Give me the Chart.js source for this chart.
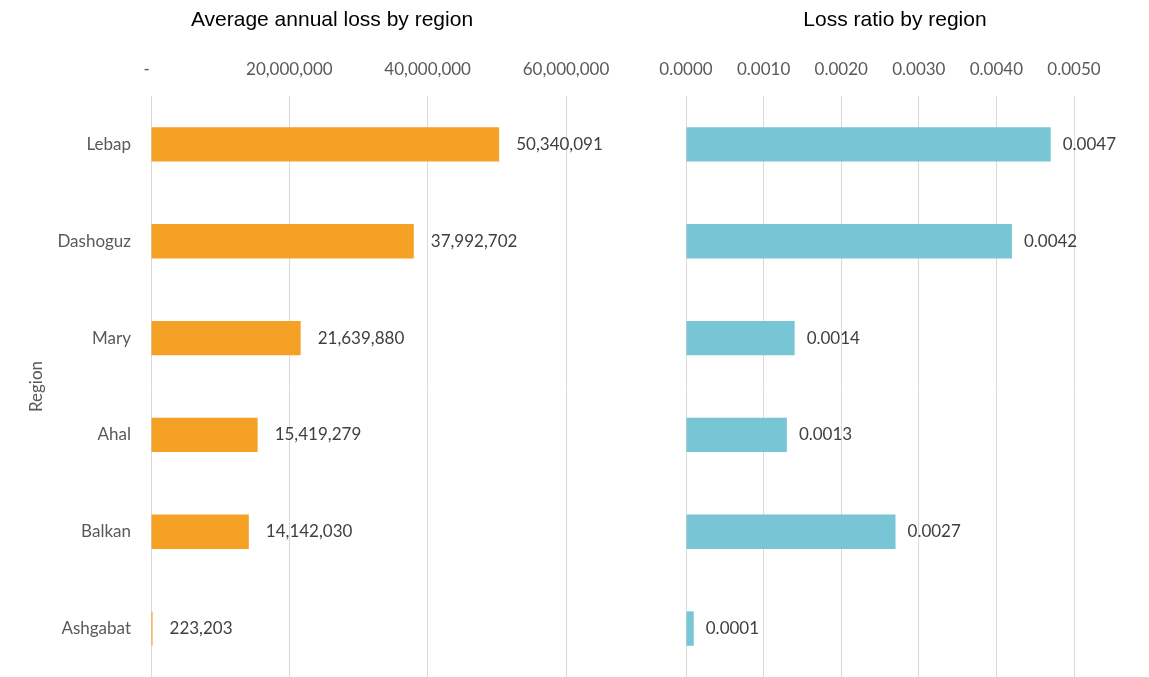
<!DOCTYPE html>
<html>
<head>
<meta charset="utf-8">
<script src="https://cdn.jsdelivr.net/npm/chart.js@4.4.1/dist/chart.umd.min.js"></script>
<style>
    body { margin: 0; background: #fff; }
    #loss_box { position: absolute; left: 0; top: 0; }
    #ratio_box { position: absolute; left: 641px; top: 0; }
</style>
</head>
<body>
<div id="loss_box"><canvas id="annual_loss_chart" width="664" height="677"></canvas></div>
<div id="ratio_box"><canvas id="loss_ratio_chart" width="508" height="677"></canvas></div>

<script>
// regions and their values
var regions = ['Lebap', 'Dashoguz', 'Mary', 'Ahal', 'Balkan', 'Ashgabat'];
var annual_loss = [50340091, 37992702, 21639880, 15419279, 14142030, 223203];
var loss_ratio = [0.0047, 0.0042, 0.0014, 0.0013, 0.0027, 0.0001];

var loss_ticks = [0, 20000000, 40000000, 60000000];
var ratio_ticks = [0, 0.001, 0.002, 0.003, 0.004, 0.005];

var tick_font = { family: 'Lato', size: 17 };
var grid_color = '#d9d9d9';

// heading centred over the whole canvas (the built in title centres on the padded area)
function heading(text) {
    return {
        id: 'heading',
        afterDraw: function (chart) {
            var ctx = chart.ctx;
            ctx.save();
            ctx.font = '21px "Liberation Sans"';
            ctx.fillStyle = '#000';
            ctx.textAlign = 'center';
            ctx.textBaseline = 'middle';
            ctx.fillText(text, chart.width / 2, 20);
            ctx.restore();
        }
    };
}

// writes the value just right of each bar
function value_labels(format, gap) {
    return {
        id: 'value_labels',
        afterDatasetsDraw: function (chart) {
            var ctx = chart.ctx;
            var values = chart.data.datasets[0].data;
            ctx.save();
            ctx.font = '17px Lato';
            ctx.fillStyle = '#404040';
            ctx.textAlign = 'left';
            ctx.textBaseline = 'middle';
            chart.getDatasetMeta(0).data.forEach(function (bar, i) {
                ctx.fillText(format(values[i]), bar.x + gap, bar.y);
            });
            ctx.restore();
        }
    };
}

// accounting style: zero shows as a dash
function format_loss(v) {
    return v === 0 ? '-  ' : v.toLocaleString('en-US');
}

function format_ratio(v) {
    return v.toFixed(4);
}

function x_axis(ticks, format) {
    return {
        position: 'top',
        min: ticks[0],
        max: ticks[ticks.length - 1],
        // same axis height in both charts, and no extra room for the end labels
        afterFit: function (scale) {
            scale.height = 65;
            scale.paddingLeft = 0;
            scale.paddingRight = 0;
        },
        afterBuildTicks: function (scale) {
            scale.ticks = ticks.map(function (v) { return { value: v }; });
        },
        ticks: {
            color: '#595959',
            font: tick_font,
            padding: 16,
            maxRotation: 0,
            callback: function (v) { return format(v); }
        },
        grid: { color: grid_color, lineWidth: 1, drawTicks: false },
        border: { display: false }
    };
}

var chart_layout_top = 31;

// average annual loss chart
var annual_loss_chart = new Chart(document.getElementById('annual_loss_chart'), {
    type: 'bar',
    data: {
        labels: regions,
        datasets: [{
            data: annual_loss,
            backgroundColor: '#f5a125',
            categoryPercentage: 1.0,
            barPercentage: 0.355
        }]
    },
    options: {
        indexAxis: 'y',
        responsive: false,
        animation: false,
        layout: { padding: { left: 0, right: 98, top: chart_layout_top, bottom: 0 } },
        scales: {
            x: x_axis(loss_ticks, format_loss),
            y: {
                afterFit: function (scale) {
                    scale.width = 151;
                    scale.paddingTop = 0;
                    scale.paddingBottom = 0;
                },
                ticks: { color: '#595959', font: tick_font, padding: 20 },
                grid: { display: false, drawTicks: false },
                border: { display: false },
                title: {
                    display: true,
                    text: 'Region',
                    color: '#595959',
                    font: { family: 'Lato', size: 17 },
                    padding: { top: 26, bottom: 0 }
                }
            }
        },
        plugins: {
            legend: { display: false },
            tooltip: { enabled: false }
        }
    },
    plugins: [heading('Average annual loss by region'), value_labels(format_loss, 17)]
});

// loss ratio chart
var loss_ratio_chart = new Chart(document.getElementById('loss_ratio_chart'), {
    type: 'bar',
    data: {
        labels: regions,
        datasets: [{
            data: loss_ratio,
            backgroundColor: '#78c5d5',
            categoryPercentage: 1.0,
            barPercentage: 0.355
        }]
    },
    options: {
        indexAxis: 'y',
        responsive: false,
        animation: false,
        layout: { padding: { left: 45, right: 75, top: chart_layout_top, bottom: 0 } },
        scales: {
            x: x_axis(ratio_ticks, format_ratio),
            y: {
                display: false,
                afterFit: function (scale) {
                    scale.paddingTop = 0;
                    scale.paddingBottom = 0;
                }
            }
        },
        plugins: {
            legend: { display: false },
            tooltip: { enabled: false }
        }
    },
    plugins: [heading('Loss ratio by region'), value_labels(format_ratio, 12)]
});
</script>
</body>
</html>
